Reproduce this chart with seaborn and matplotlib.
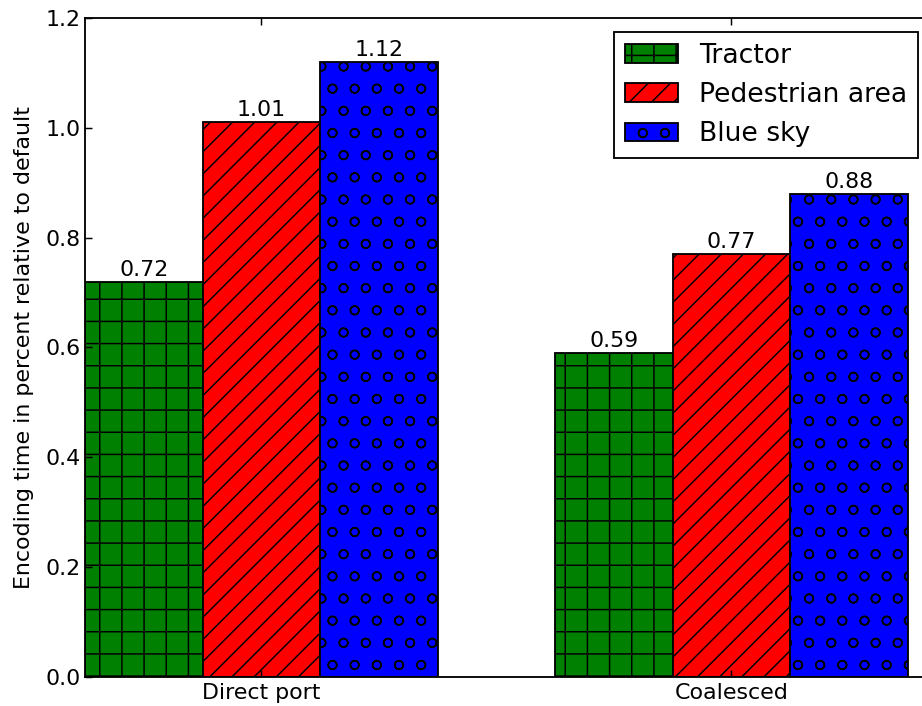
import matplotlib
matplotlib.use("Agg")
import matplotlib.pyplot as plt
import seaborn as sns
import pandas as pd

groups = ["Direct port", "Coalesced"]
sequences = ["Tractor", "Pedestrian area", "Blue sky"]
tractor = [0.72, 0.59]
pedestrian = [1.01, 0.77]
blue_sky = [1.12, 0.88]
yticks = [0.0, 0.2, 0.4, 0.6, 0.8, 1.0, 1.2]

colors = ["#008000", "#ff0000", "#0000ff"]
hatches = ["+", "//", "o"]

df = pd.DataFrame({
    "group": groups * 3,
    "sequence": [s for s in sequences for _ in groups],
    "value": tractor + pedestrian + blue_sky,
})

plt.rcParams.update({
    "font.family": "DejaVu Sans",
    "font.size": 12,
    "xtick.direction": "in",
    "ytick.direction": "in",
    "xtick.top": True,
    "ytick.right": True,
    "xtick.major.size": 4,
    "ytick.major.size": 4,
    "axes.linewidth": 1.0,
    "hatch.linewidth": 0.8,
    "hatch.color": "black",
    "legend.fancybox": False,
})

DPI = 133
W, H = 922, 706
fig = plt.figure(figsize=(W / DPI, H / DPI), dpi=DPI, facecolor="white")
# axes run slightly past the right edge of the canvas
ax = fig.add_axes([85 / W, 1 - 677 / H, (940 - 85) / W, (677 - 18) / H])

sns.barplot(data=df, x="group", y="value", hue="sequence", order=groups,
            hue_order=sequences, palette=colors, saturation=1, width=0.75,
            edgecolor="black", linewidth=1.0, ax=ax, legend=True)

for container, hatch in zip(ax.containers, hatches):
    for bar in container:
        bar.set_hatch(hatch)
    ax.bar_label(container, fmt="%.2f", padding=1, fontsize=12)

ax.set_ylim(0, 1.2)
ax.set_yticks(yticks)
ax.set_yticklabels([f"{t:.1f}" for t in yticks])
ax.set_xlim(-0.375, (940 - 85) / 470 - 0.375)
ax.set_xlabel("")
ax.set_ylabel("Encoding time in percent relative to default", fontsize=12,
              labelpad=6)
ax.tick_params(axis="x", which="major", pad=3)
ax.tick_params(axis="y", which="major", pad=2.5)

handles, labels = ax.get_legend_handles_labels()
for h, hatch in zip(handles, hatches):
    h.set_hatch(hatch)
leg = ax.legend(handles, labels, loc="upper right", fontsize=14.4,
                frameon=True, edgecolor="black", framealpha=1,
                bbox_to_anchor=(918 / W, 1 - 32 / H),
                bbox_transform=fig.transFigure, borderaxespad=0)
leg.get_frame().set_linewidth(1.0)

fig.savefig("out.png", dpi=DPI, facecolor="white")
